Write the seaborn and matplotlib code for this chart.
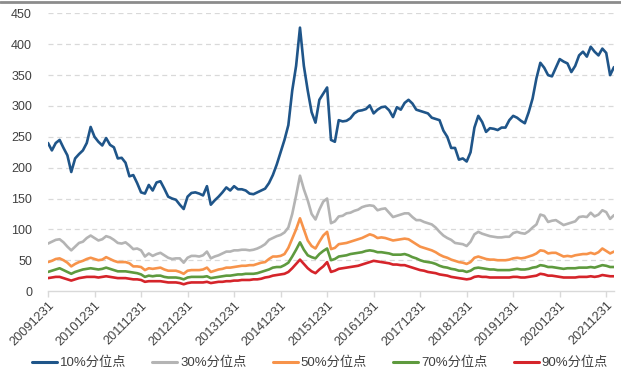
import numpy as np
import pandas as pd
import matplotlib.pyplot as plt
import seaborn as sns
from matplotlib.lines import Line2D

# Monthly points, 2009-12 .. 2022-02
p10 = [240, 228, 240, 245, 232, 220, 193, 215, 222, 228,
       240, 266, 250, 242, 236, 248, 237, 233, 215, 216,
       208, 186, 188, 175, 160, 158, 172, 163, 176, 178,
       166, 153, 150, 148, 140, 133, 153, 159, 160, 158,
       155, 170, 140, 147, 153, 160, 168, 163, 170, 165,
       165, 163, 158, 157, 160, 163, 166, 175, 188, 205,
       225, 245, 269, 325, 365, 427, 365, 325, 290, 273,
       310, 320, 330, 245, 242, 277, 275, 276, 280, 288,
       292, 293, 295, 301, 288, 294, 298, 299, 293, 282,
       298, 294, 305, 310, 304, 294, 292, 290, 288, 281,
       279, 277, 260, 250, 232, 232, 213, 215, 210, 225,
       265, 284, 274, 258, 264, 263, 261, 265, 265, 277,
       284, 281, 276, 272, 290, 312, 345, 370, 362, 350,
       348, 362, 376, 372, 369, 355, 365, 382, 388, 380,
       396, 388, 382, 393, 386, 350, 363]
p30 = [77, 80, 83, 84, 79, 72, 66, 72, 78, 80,
       86, 90, 86, 82, 84, 89, 87, 83, 78, 77,
       79, 74, 68, 69, 66, 56, 61, 57, 60, 62,
       58, 54, 52, 53, 53, 46, 54, 57, 57, 56,
       58, 64, 53, 56, 58, 61, 64, 64, 66, 66,
       67, 67, 66, 67, 69, 72, 76, 83, 86, 89,
       91, 95, 103, 125, 155, 187, 165, 147, 125, 116,
       132, 145, 150, 110, 113, 121, 122, 126, 127, 130,
       132, 136, 138, 139, 138, 131, 133, 134, 127, 120,
       122, 124, 126, 126, 120, 115, 115, 112, 110, 108,
       103, 96, 90, 86, 83, 78, 77, 76, 73, 80,
       92, 96, 93, 91, 89, 88, 87, 87, 88, 88,
       94, 96, 94, 93, 97, 103, 108, 124, 122, 112,
       114, 115, 111, 107, 109, 111, 113, 120, 121, 120,
       127, 121, 124, 131, 128, 117, 123]
p50 = [47, 49, 52, 53, 50, 46, 40, 44, 47, 49,
       52, 54, 52, 50, 51, 55, 52, 49, 47, 47,
       47, 45, 40, 40, 39, 34, 37, 36, 37, 38,
       35, 33, 33, 33, 31, 28, 33, 34, 34, 34,
       35, 38, 31, 33, 35, 36, 38, 38, 39, 40,
       41, 41, 42, 42, 44, 46, 47, 52, 56, 56,
       57, 60, 70, 85, 100, 118, 100, 82, 73, 69,
       80, 90, 96, 68, 70, 76, 77, 78, 80, 82,
       84, 86, 89, 92, 90, 86, 87, 86, 84, 82,
       83, 84, 85, 84, 80, 76, 72, 70, 68, 66,
       63, 59, 56, 54, 51, 49, 47, 46, 44, 47,
       54, 56, 54, 52, 51, 51, 50, 50, 50, 51,
       53, 54, 53, 54, 56, 58, 61, 66, 65, 61,
       62, 62, 59, 56, 57, 56, 58, 59, 60, 60,
       62, 60, 63, 69, 65, 61, 64]
p70 = [31, 33, 35, 37, 34, 31, 28, 31, 33, 35,
       36, 37, 36, 35, 36, 38, 36, 34, 32, 32,
       32, 31, 30, 29, 27, 23, 25, 24, 25, 25,
       23, 22, 22, 22, 21, 19, 22, 23, 23, 23,
       23, 24, 21, 22, 23, 24, 25, 25, 26, 27,
       27, 28, 28, 28, 29, 31, 33, 35, 38, 39,
       39, 42, 46, 56, 67, 79, 67, 58, 55, 53,
       60, 65, 69, 50, 52, 56, 57, 58, 60, 61,
       62, 63, 65, 66, 65, 63, 63, 62, 61, 59,
       59, 59, 60, 58, 55, 53, 50, 48, 47, 46,
       44, 41, 39, 38, 36, 35, 33, 33, 31, 33,
       37, 38, 37, 36, 35, 35, 34, 34, 34, 34,
       35, 36, 35, 35, 36, 38, 39, 42, 41, 39,
       39, 38, 37, 36, 37, 37, 37, 38, 38, 38,
       39, 38, 40, 42, 41, 39, 39]
p90 = [21, 22, 23, 23, 21, 19, 17, 19, 21, 22,
       23, 23, 23, 22, 23, 24, 23, 22, 21, 21,
       21, 20, 19, 19, 18, 15, 16, 16, 16, 16,
       15, 14, 14, 14, 13, 11, 13, 14, 14, 14,
       14, 15, 13, 14, 15, 15, 16, 16, 17, 17,
       18, 18, 18, 19, 19, 20, 22, 23, 25, 26,
       27, 28, 31, 37, 44, 51, 44, 37, 32, 29,
       35, 40, 47, 31, 33, 36, 37, 38, 39, 40,
       41, 43, 45, 47, 49, 48, 47, 46, 45, 43,
       43, 42, 42, 40, 38, 36, 34, 33, 31, 30,
       29, 27, 26, 25, 23, 22, 21, 20, 19, 20,
       23, 24, 23, 23, 22, 22, 22, 22, 22, 22,
       23, 23, 22, 22, 23, 24, 25, 28, 27, 25,
       25, 24, 23, 22, 22, 22, 22, 23, 23, 23,
       24, 23, 24, 26, 25, 24, 24]

series_names = ["10%分位点", "30%分位点", "50%分位点", "70%分位点", "90%分位点"]
tick_labels = ["20091231", "20101231", "20111231", "20121231", "20131231",
               "20141231", "20151231", "20161231", "20171231", "20181231",
               "20191231", "20201231", "20211231"]

colors = {"10%分位点": "#1f5589",
          "30%分位点": "#b4b4b4",
          "50%分位点": "#f7934a",
          "70%分位点": "#5e9a3e",
          "90%分位点": "#d5242a"}

# long-form frame for seaborn
frames = []
for name, vals in zip(series_names, [p10, p30, p50, p70, p90]):
    frames.append(pd.DataFrame({"idx": np.arange(len(vals)), "val": vals, "series": name}))
df = pd.concat(frames, ignore_index=True)

sns.set_style("white")
plt.rcParams['font.family'] = ['Liberation Sans', 'Noto Sans CJK SC', 'DejaVu Sans']

fig = plt.figure(figsize=(6.21, 3.84), dpi=100)
ax = fig.add_axes([0.0773, 0.242, 0.9114, 0.723])

sns.lineplot(data=df, x="idx", y="val", hue="series", hue_order=series_names,
             palette=colors, linewidth=1.9, ax=ax, legend=False)

ax.set_xlim(0, 146)
ax.set_ylim(0, 450)
ax.set_yticks(np.arange(0, 451, 50))
ax.set_xticks(np.arange(0, 12 * len(tick_labels), 12))
ax.set_xticklabels(tick_labels, rotation=45, ha="right", rotation_mode="anchor")
ax.set_xlabel("")
ax.set_ylabel("")

for y in np.arange(50, 451, 50):
    ax.axhline(y, color="#d9d9d9", lw=0.9, ls=(0, (4, 3)), zorder=0)

for s in ["top", "right", "left"]:
    ax.spines[s].set_visible(False)
ax.spines["bottom"].set_color("#d9d9d9")
ax.spines["bottom"].set_linewidth(1.0)
ax.tick_params(axis="x", bottom=True, length=4, width=1.0, color="#d9d9d9",
               labelsize=9.2, labelcolor="#404040", pad=2)
ax.tick_params(axis="y", left=False, labelsize=9, labelcolor="#404040", pad=8)

handles = [Line2D([], [], color=colors[n], lw=2.2) for n in series_names]
fig.legend(handles, series_names, loc="center", bbox_to_anchor=(0.515, 0.055), ncol=5,
           frameon=False, fontsize=9.5, handlelength=1.9, handletextpad=0.2,
           columnspacing=2.0, labelcolor="#404040")

# frame line at top of the picture
fig.add_artist(Line2D([0, 1], [0.995, 0.995], color="#8c8c8c", lw=2.0))

fig.savefig("out.png", dpi=100)
